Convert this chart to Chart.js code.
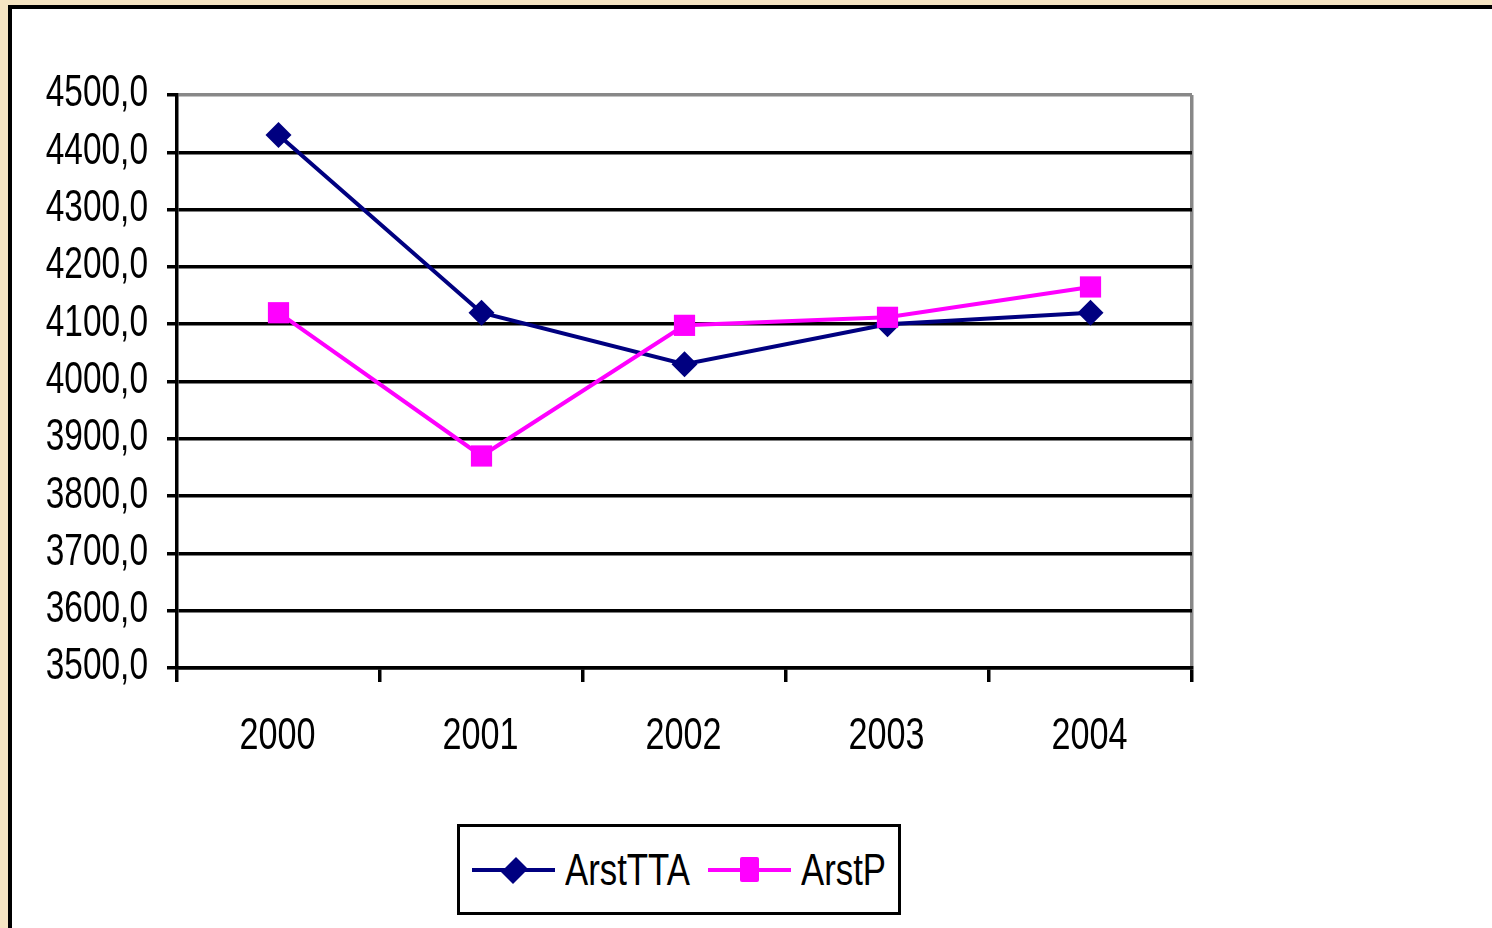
<!DOCTYPE html>
<html>
<head>
<meta charset="utf-8">
<script src="https://cdn.jsdelivr.net/npm/chart.js@4"></script>
<style>
  html, body { margin: 0; padding: 0; }
  body { width: 1492px; height: 928px; overflow: hidden; background: #F6E5C3; position: relative; }
  #frame { position: absolute; left: 8px; top: 5px; width: 1500px; height: 940px; border: 4px solid #000; background: #fff; }
  #chart { position: absolute; left: 0; top: 0; }
  #legend { position: absolute; left: 457px; top: 824px; width: 438px; height: 85px; border: 3px solid #000; background: #fff;
            font-family: "Liberation Sans", Arial, sans-serif; font-size: 44px; color: #000; }
  .item { position: absolute; top: 0; height: 85px; display: flex; align-items: center; white-space: nowrap; }
  .sym { position: relative; width: 83px; height: 30px; margin-right: 10px; flex: none; }
  .sym .ln { position: absolute; left: 0; right: 0; top: 13px; height: 4px; }
  .sym .mk { position: absolute; left: 50%; top: 50%; }
  .item span { display: inline-block; transform: scaleX(0.79); transform-origin: left center; }
</style>
</head>
<body>
<div id="frame"></div>
<canvas id="chart" width="1492" height="928"></canvas>
<div id="legend"></div>
<script>
// data
const years = ["2000", "2001", "2002", "2003", "2004"];
const arstTTA = [4430, 4120, 4030, 4100, 4120];
const arstP = [4120, 3870, 4098, 4112, 4165];
const seriesNames = ["ArstTTA", "ArstP"];
const yTicks = { min: 3500, max: 4500, step: 100 };

const FONT = "'Liberation Sans', Arial, sans-serif";
const NARROW = 0.76; // Arial Narrow look: squeeze the regular face

// tick labels drawn with a horizontal squeeze (no narrow font installed)
const narrowLabels = {
  id: "narrowLabels",
  afterDraw(chart) {
    const ctx = chart.ctx;
    const xs = chart.scales.x, ys = chart.scales.y;
    ctx.save();
    ctx.fillStyle = "#000";
    ctx.font = "45px " + FONT;
    ctx.textBaseline = "middle";
    ctx.textAlign = "right";
    ys.ticks.forEach((t, i) => {
      const lbl = ys.options.ticks.callback(t.value);
      ctx.save();
      ctx.translate(ys.right - 29, ys.getPixelForTick(i) - 1);
      ctx.scale(NARROW * 44 / 45, 1);
      ctx.fillText(lbl, 0, 0);
      ctx.restore();
    });
    ctx.textAlign = "center";
    xs.ticks.forEach((t, i) => {
      ctx.save();
      ctx.translate(xs.getPixelForTick(i) - 1, xs.top + 69);
      ctx.scale(NARROW, 1);
      ctx.fillText(years[i], 0, 0);
      ctx.restore();
    });
    ctx.restore();
  }
};

document.addEventListener("DOMContentLoaded", () => {
  const ctx = document.getElementById("chart").getContext("2d");
  new Chart(ctx, {
    type: "line",
    data: {
      labels: years,
      datasets: [{
        label: seriesNames[0],
        data: arstTTA,
        borderColor: "#000080",
        backgroundColor: "#000080",
        borderWidth: 4,
        pointStyle: "rectRot",
        pointRadius: 13,
        pointBorderWidth: 0,
        order: 2
      }, {
        label: seriesNames[1],
        data: arstP,
        borderColor: "#FF00FF",
        backgroundColor: "#FF00FF",
        borderWidth: 4,
        pointStyle: "rect",
        pointRadius: 15,
        pointBorderWidth: 0,
        order: 1
      }]
    },
    plugins: [narrowLabels],
    options: {
      responsive: false,
      animation: false,
      layout: { padding: { left: 0, top: 95, right: 300, bottom: 160 } },
      plugins: {
        legend: { display: false },
        tooltip: { enabled: false }
      },
      scales: {
        x: {
          offset: true,
          afterFit: (s) => { s.height = 100; },
          grid: {
            offset: true,
            lineWidth: 3.5,
            tickLength: 14,
            tickColor: "#000",
            color: (c) => c.type === "scale" ? "#888" : "rgba(0,0,0,0)"
          },
          border: { color: "#000", width: 3.5 },
          ticks: { display: false }
        },
        y: {
          min: yTicks.min,
          max: yTicks.max,
          afterFit: (s) => { s.width = 177; },
          grid: {
            lineWidth: 3.5,
            tickLength: 10,
            tickColor: "#000",
            color: (c) => c.tick && c.tick.value === yTicks.max ? "#888" : "#000"
          },
          border: { color: "#000", width: 3.5 },
          ticks: {
            display: false,
            stepSize: yTicks.step,
            callback: (v) => v.toFixed(1).replace(".", ",")
          }
        }
      }
    }
  });

  // boxed legend: line with marker, then name
  const legend = document.getElementById("legend");
  const styles = [
    { color: "#000080", left: 12, mk: "width:17px;height:17px;margin:-8px 0 0 -8px;transform:rotate(45deg) scaleY(1.25);" },
    { color: "#FF00FF", left: 248, mk: "width:19px;height:25px;margin:-13px 0 0 -10px;border-radius:2px;" }
  ];
  seriesNames.forEach((name, i) => {
    const st = styles[i];
    const item = document.createElement("div");
    item.className = "item";
    item.style.left = st.left + "px";
    item.innerHTML = '<div class="sym"><div class="ln" style="background:' + st.color + '"></div>' +
      '<div class="mk" style="background:' + st.color + ';' + st.mk + '"></div></div><span>' + name + '</span>';
    legend.appendChild(item);
  });
});
</script>
</body>
</html>
